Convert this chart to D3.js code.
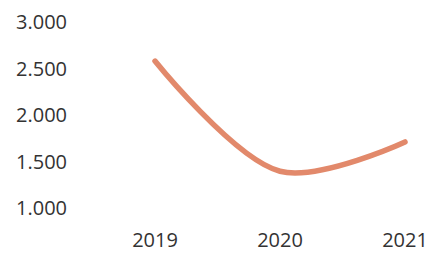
<!DOCTYPE html>
<html>
<head>
<meta charset="utf-8">
<script src="https://cdn.jsdelivr.net/npm/d3@7"></script>
<style>
  html, body { margin: 0; padding: 0; background: #fff; }
  #stage { width: 431px; height: 253px; }
</style>
</head>
<body>
<div id="stage"></div>
<script>
const years = ["2019", "2020", "2021"];
const values = [2580, 1395, 1710];
const yTicks = [1000, 1500, 2000, 2500, 3000];

const width = 431;
const height = 253;

const svg = d3.select("#stage")
  .append("svg")
  .attr("width", width)
  .attr("height", height);

const x = d3.scalePoint().domain(years).range([155, 405]);
const y = d3.scaleLinear().domain([1000, 3000]).range([208, 22]);

const fmt = v => d3.format(",")(v).replace(",", ".");

svg.append("g")
  .selectAll("text")
  .data(yTicks)
  .join("text")
  .attr("x", 67)
  .attr("y", d => y(d))
  .attr("dy", "0.35em")
  .attr("text-anchor", "end")
  .attr("font-family", "'Open Sans', sans-serif")
  .attr("font-size", "20px")
  .attr("fill", "#333")
  .text(fmt);

svg.append("g")
  .selectAll("text")
  .data(years)
  .join("text")
  .attr("x", d => x(d))
  .attr("y", 247)
  .attr("text-anchor", "middle")
  .attr("font-family", "'Open Sans', sans-serif")
  .attr("font-size", "20px")
  .attr("fill", "#333")
  .text(d => d);

const line = d3.line()
  .x((d, i) => x(years[i]))
  .y(d => y(d))
  .curve(d3.curveCatmullRom.alpha(0.5));

svg.append("path")
  .datum(values)
  .attr("d", line)
  .attr("fill", "none")
  .attr("stroke", "#e2896b")
  .attr("stroke-width", 5.5)
  .attr("stroke-linecap", "round");
</script>
</body>
</html>
